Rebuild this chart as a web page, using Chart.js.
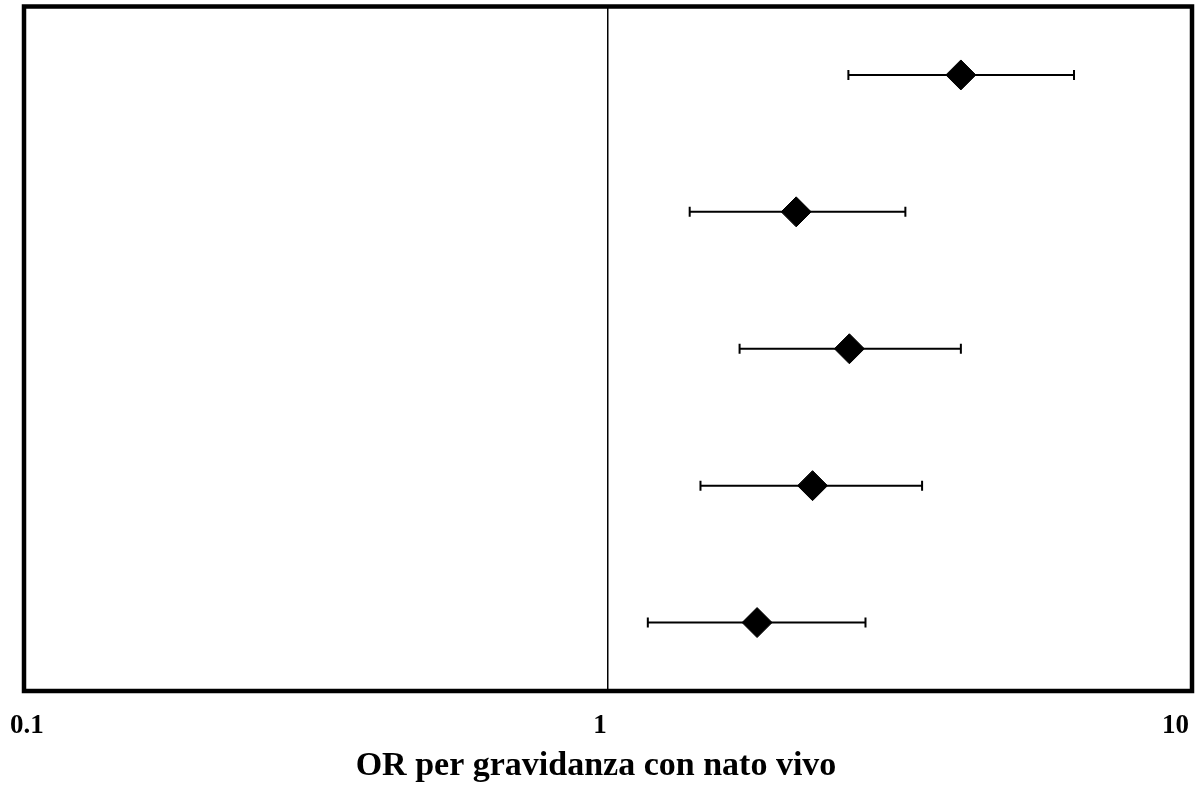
<!DOCTYPE html>
<html lang="it">
<head>
  <meta charset="UTF-8" />
  <title>OR per gravidanza con nato vivo</title>
  <style>
    * {
      box-sizing: border-box;
    }
    html, body {
      margin: 0;
      padding: 0;
      background: #fff;
    }
    #chart-container {
      width: 1195px;
      height: 787px;
      position: relative;
    }
  </style>
</head>
<body>
  <div id="chart-container">
    <canvas id="orChart" aria-label="Forest plot, OR per gravidanza con nato vivo" role="img"></canvas>
  </div>

  <script src="https://cdn.jsdelivr.net/npm/chart.js"></script>
  <script>
    // rows top to bottom (log scale)
    const rows = [1, 2, 3, 4, 5];
    const orValues = [4.02, 2.10, 2.59, 2.24, 1.80];
    const ciLower = [2.58, 1.38, 1.68, 1.44, 1.17];
    const ciUpper = [6.28, 3.23, 4.02, 3.45, 2.76];

    const tickValues = [0.1, 1, 10];
    const tickLabels = ['0.1', '1', '10'];
    const axisTitle = 'OR per gravidanza con nato vivo';

    const serif = '"Liberation Serif", "Times New Roman", serif';

    // whiskers with end caps, drawn under the diamonds
    const errorBars = {
      id: 'errorBars',
      beforeDatasetsDraw(chart) {
        const { ctx, scales: { x, y } } = chart;
        ctx.save();
        ctx.strokeStyle = '#000';
        ctx.lineWidth = 2;
        rows.forEach((r, i) => {
          const py = y.getPixelForValue(r);
          const x1 = x.getPixelForValue(ciLower[i]);
          const x2 = x.getPixelForValue(ciUpper[i]);
          ctx.beginPath();
          ctx.moveTo(x1, py);
          ctx.lineTo(x2, py);
          ctx.moveTo(x1, py - 5);
          ctx.lineTo(x1, py + 5);
          ctx.moveTo(x2, py - 5);
          ctx.lineTo(x2, py + 5);
          ctx.stroke();
        });
        ctx.restore();
      }
    };

    // thick frame, tick labels and axis title
    const frameAndLabels = {
      id: 'frameAndLabels',
      afterDraw(chart) {
        const { ctx, chartArea: a, scales: { x } } = chart;
        ctx.save();
        ctx.strokeStyle = '#000';
        ctx.lineWidth = 4.5;
        ctx.strokeRect(a.left, a.top, a.right - a.left, a.bottom - a.top);

        ctx.fillStyle = '#000';
        ctx.textAlign = 'center';
        ctx.textBaseline = 'alphabetic';
        ctx.font = 'bold 27px ' + serif;
        tickValues.forEach((v, i) => {
          const w = ctx.measureText(tickLabels[i]).width;
          let px = x.getPixelForValue(v) - 8;
          px = Math.max(px, w / 2 + 10);
          px = Math.min(px, chart.width - w / 2 - 6);
          ctx.fillText(tickLabels[i], px, a.bottom + 42);
        });

        ctx.font = 'bold 34px ' + serif;
        ctx.fillText(axisTitle, (a.left + a.right) / 2 - 12, a.bottom + 84);
        ctx.restore();
      }
    };

    const ctx = document.getElementById('orChart').getContext('2d');
    new Chart(ctx, {
      type: 'scatter',
      data: {
        datasets: [{
          data: rows.map((r, i) => ({ x: orValues[i], y: r })),
          pointStyle: 'rectRot',
          pointRadius: 15,
          pointHoverRadius: 15,
          backgroundColor: '#000',
          borderColor: '#000',
          borderWidth: 1
        }]
      },
      options: {
        responsive: true,
        maintainAspectRatio: false,
        animation: false,
        layout: {
          autoPadding: false,
          padding: { left: 24, top: 6.5, right: 3, bottom: 96 }
        },
        plugins: {
          legend: { display: false },
          tooltip: { enabled: false },
          title: { display: false }
        },
        scales: {
          x: {
            type: 'logarithmic',
            min: 0.1,
            max: 10,
            afterBuildTicks(scale) {
              scale.ticks = tickValues.map(v => ({ value: v }));
            },
            afterFit(scale) {
              scale.height = 0;
              scale.paddingLeft = 0;
              scale.paddingRight = 0;
            },
            ticks: { display: false },
            border: { display: false },
            grid: {
              drawTicks: false,
              color: c => (c.tick && c.tick.value === 1 ? '#000' : 'rgba(0,0,0,0)'),
              lineWidth: 1.5
            }
          },
          y: {
            display: false,
            min: 0.5,
            max: 5.5,
            reverse: true
          }
        }
      },
      plugins: [errorBars, frameAndLabels]
    });
  </script>
</body>
</html>
